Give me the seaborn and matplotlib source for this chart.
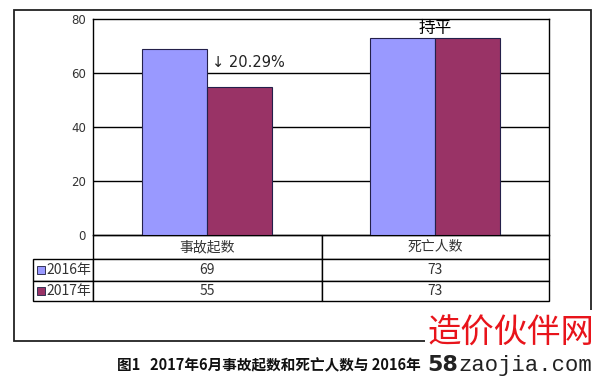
import matplotlib
matplotlib.use("Agg")
import matplotlib.pyplot as plt
from matplotlib.patches import Rectangle
import seaborn as sns
import pandas as pd

# ---- data ----
categories = ["事故起数", "死亡人数"]
series_names = ["2016年", "2017年"]
values_2016 = [69, 73]
values_2017 = [55, 73]
y_ticks = [0, 20, 40, 60, 80]
note_change = "↓ 20.29%"
note_flat = "持平"
caption = "图1   2017年6月事故起数和死亡人数与 2016年"
colors = ["#9999FF", "#993366"]

df = pd.DataFrame({
    "cat": categories * 2,
    "year": [series_names[0]] * 2 + [series_names[1]] * 2,
    "val": values_2016 + values_2017,
})

sns.set_theme(style="white")
plt.rcParams["font.family"] = ["Noto Sans CJK SC", "DejaVu Sans"]

W, H = 600, 378
fig = plt.figure(figsize=(W / 100, H / 100), dpi=100)
fig.patch.set_facecolor("white")

def fx(px):
    return px / W

def fy(py):
    return 1 - py / H

ax_l, ax_r, ax_t, ax_b = 93, 549, 19, 235
ax = fig.add_axes([fx(ax_l), fy(ax_b), (ax_r - ax_l) / W, (ax_b - ax_t) / H])

sns.barplot(data=df, x="cat", y="val", hue="year", palette=colors, ax=ax,
            width=0.57, dodge=True, edgecolor="#24204a", linewidth=0.8,
            saturation=1, legend=False, zorder=3)

ax.set_ylim(0, 80)
ax.set_xlim(-0.5, 1.5)
ax.set_yticks(y_ticks)
ax.set_yticklabels([str(t) for t in y_ticks], fontsize=8.5, color="#333333",
                   family=["DejaVu Sans"])
ax.set_xticks([])
ax.set_xlabel("")
ax.set_ylabel("")
ax.tick_params(axis="y", length=0, pad=5)
for s in ax.spines.values():
    s.set_visible(True)
    s.set_color("black")
    s.set_linewidth(1.0)
ax.grid(False)
for t in y_ticks[1:-1]:
    ax.axhline(t, color="black", linewidth=1.0, zorder=1)

# annotations
ax.text(0.02, 64, note_change, ha="left", va="center", fontsize=10.5,
        color="#222222", family=["DejaVu Sans"])
ax.text(1.0, values_2017[1] + 0.3, note_flat, ha="center", va="bottom",
        fontsize=12, color="black", clip_on=False, zorder=5)

# data table (bbox covers the data grid; row labels hang to the left)
tbl_t, tbl_b = 235, 301
axw = ax_r - ax_l
axh = ax_b - ax_t
bbox = [0, -(tbl_b - tbl_t) / axh, 1, (tbl_b - tbl_t) / axh]
cell_text = [[str(v) for v in values_2016], [str(v) for v in values_2017]]
tbl = ax.table(cellText=cell_text, rowLabels=series_names, colLabels=categories,
               cellLoc="center", rowLoc="right", bbox=bbox)
tbl._autoColumns = []
tbl.auto_set_font_size(False)
col_px = {-1: 60, 0: 229, 1: 227}
row_px = {0: 24, 1: 22, 2: 20}
for (r, c), cell in tbl.get_celld().items():
    cell.set_width(col_px[c] / axw)
    cell.set_height(row_px[r] / axh)
    cell.set_edgecolor("black")
    cell.set_linewidth(1.0)
    cell.get_text().set_fontsize(10)
    cell.get_text().set_color("#333333")
    if c == -1:
        cell.PAD = 0.03

# legend swatches in row-label cells
row_centers = [270, 291]
for yc, col in zip(row_centers, colors):
    fig.patches.append(Rectangle((fx(37), fy(yc + 4)), 8 / W, 8 / H,
                                 transform=fig.transFigure, facecolor=col,
                                 edgecolor="#333355", linewidth=0.7))

# outer frame
fig.patches.append(Rectangle((fx(14), fy(341)), (591 - 14) / W, (341 - 10) / H,
                             transform=fig.transFigure, fill=False,
                             edgecolor="#222222", linewidth=1.3, zorder=1))

# caption
fig.text(fx(117), fy(365), caption, ha="left", va="center", fontsize=10.5,
         fontweight="bold", color="#111111")

# watermark block
fig.patches.append(Rectangle((fx(425), 0), (W - 425) / W, (378 - 310) / H,
                             transform=fig.transFigure, facecolor="white",
                             edgecolor="none", zorder=5))
fig.text(fx(427), fy(333), "造价伙伴网", ha="left", va="center", fontsize=24,
         color="#e8141b", zorder=6)
fig.text(fx(427), fy(365), "58", ha="left", va="center", fontsize=16,
         fontweight="bold", color="#222222", family=["DejaVu Sans"], zorder=6)
fig.text(fx(458), fy(366), "zaojia.com", ha="left", va="center", fontsize=16,
         color="#222222", family=["Liberation Mono"], zorder=6)

fig.savefig("out.png", dpi=100)
